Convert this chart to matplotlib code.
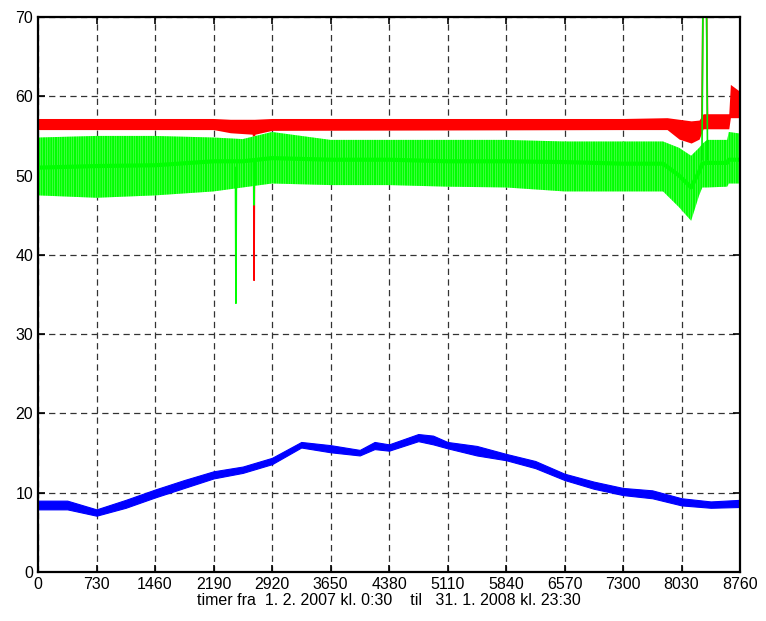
import numpy as np
import matplotlib
matplotlib.use("Agg")
from matplotlib import pyplot as plt

plt.rcParams['font.family'] = ['Liberation Sans Narrow', 'Liberation Sans', 'DejaVu Sans']
plt.rcParams['hatch.linewidth'] = 1.5

# hours axis
xticks = [0, 730, 1460, 2190, 2920, 3650, 4380, 5110, 5840, 6570, 7300, 8030, 8760]

# blue series: band
blue_h = [0, 365, 730, 1095, 1460, 1825, 2190, 2555, 2920, 3285, 3650, 4015, 4200,
          4380, 4745, 4930, 5110, 5475, 5840, 6205, 6570, 6935, 7300, 7665, 8030, 8395, 8760]
blue_lo = [7.9, 7.9, 7.1, 8.1, 9.4, 10.6, 11.8, 12.5, 13.6, 15.7, 15.1, 14.7, 15.5,
           15.3, 16.5, 16.1, 15.6, 14.7, 14.1, 13.1, 11.6, 10.5, 9.7, 9.3, 8.4, 8.1, 8.2]
blue_hi = [9.0, 9.0, 7.9, 9.1, 10.4, 11.6, 12.7, 13.3, 14.4, 16.4, 16.0, 15.4, 16.4,
           16.1, 17.4, 17.2, 16.4, 15.9, 14.9, 14.0, 12.4, 11.4, 10.6, 10.3, 9.3, 8.9, 9.1]

# red series band
red_h = [0, 2190, 2400, 2700, 2920, 7300, 7850, 8000, 8150, 8250, 8300, 8620, 8640, 8760]
red_lo = [55.8, 55.8, 55.4, 55.2, 55.7, 55.8, 55.8, 54.6, 54.1, 54.6, 55.9, 55.9, 57.3, 57.3]
red_hi = [57.2, 57.2, 57.1, 57.1, 57.2, 57.2, 57.3, 57.1, 56.9, 57.0, 57.8, 57.8, 61.5, 60.6]

# green series band
green_h = [0, 730, 1460, 2190, 2555, 2920, 3650, 4380, 5110, 5840, 6570, 7300, 7800,
           8000, 8150, 8250, 8290, 8350, 8600, 8620, 8760]
green_lo = [47.5, 47.2, 47.5, 48.0, 48.5, 49.0, 48.8, 48.8, 48.6, 48.5, 48.0, 48.0, 48.0,
            46.0, 44.3, 47.5, 48.5, 48.5, 48.6, 49.0, 49.0]
green_hi = [54.8, 55.0, 55.0, 54.8, 54.6, 55.5, 54.5, 54.5, 54.5, 54.5, 54.3, 54.3, 54.3,
            53.5, 52.5, 53.5, 54.0, 54.5, 54.5, 55.5, 55.3]
green_mid = [51.0, 51.2, 51.3, 51.8, 51.8, 52.2, 52.0, 52.0, 51.8, 51.8, 51.7, 51.5, 51.5,
             50.0, 48.5, 50.5, 51.5, 51.6, 51.6, 52.0, 52.0]

# spikes
red_spike_h = [2690, 2696, 2702]
red_spike_v = [56.0, 36.8, 56.0]
green_spike1_h = [2464, 2470, 2476]
green_spike1_v = [51.0, 33.9, 51.0]
green_spike2_h = [2690, 2696, 2702]
green_spike2_v = [52.0, 46.3, 52.0]
peak_h = [8285, 8300, 8340, 8355]
red_peak_v = [56.5, 75.0, 75.0, 56.5]
green_peak_v = [52.0, 75.0, 75.0, 52.0]

fig = plt.figure(figsize=(7.66, 6.21), dpi=100)
ax = fig.add_axes([38/766, 49/621, 702/766, 555/621])
ax.set_axisbelow(True)

ax.fill_between(blue_h, blue_lo, blue_hi, color='#0000ff', lw=0.8, zorder=2)

ax.fill_between(red_h, red_lo, red_hi, color='#ff0000', lw=0, zorder=2)
ax.plot(red_spike_h, red_spike_v, color='#ff0000', lw=1.2)
ax.plot(peak_h, red_peak_v, color='#ff0000', lw=1.2)

ax.fill_between(green_h, green_lo, green_hi, facecolor='#c8ffc8', edgecolor='#00ff00',
                hatch='|' * 7, lw=0, zorder=2)
ax.plot(green_h, green_mid, color='#00ff00', lw=3)
ax.plot(green_spike1_h, green_spike1_v, color='#00ff00', lw=1.2)
ax.plot(green_spike2_h, green_spike2_v, color='#00ff00', lw=1.2)
ax.plot(peak_h, green_peak_v, color='#00ee00', lw=1.2)

ax.set_xlim(0, 8760)
ax.set_ylim(0, 70)
ax.set_xticks(xticks)
ax.set_yticks(range(0, 71, 10))
ax.grid(True, color='0.2', linestyle=(0, (5, 3.5)), lw=0.9)
ax.tick_params(direction='in', top=True, right=True, length=5, width=1.2, labelsize=11.5)
for s in ax.spines.values():
    s.set_linewidth(1.6)
ax.set_xlabel('timer fra  1. 2. 2007 kl. 0:30    til   31. 1. 2008 kl. 23:30', fontsize=11.5, labelpad=1)

fig.savefig('out.png', dpi=100)
